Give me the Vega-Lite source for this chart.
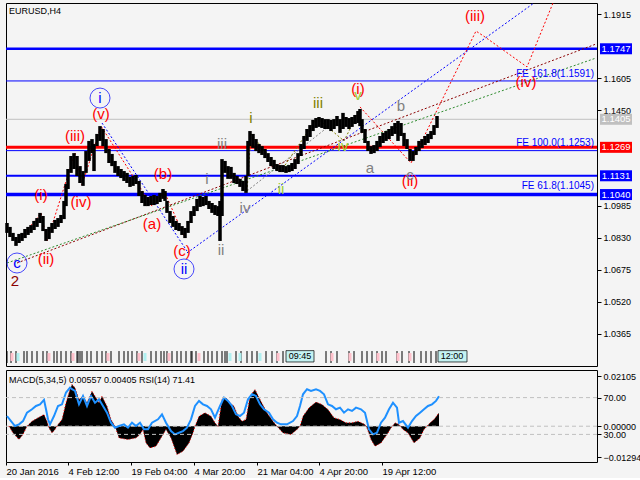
{
"$schema":"https://vega.github.io/schema/vega-lite/v6.json",
"background":"#f4f4f4",
"padding":2,
"spacing":2,
"config":{"view":{"stroke":"#000000"},"axis":{"labelFont":"Liberation Sans","labelFontSize":9,"labelColor":"#000000","tickColor":"#000000","grid":false,"domain":false}},
"datasets":{
"levels":[{"p":1.1747,"k":"b3"},{"p":1.1591,"k":"b1"},{"p":1.1405,"k":"g1"},{"p":1.1253,"k":"b1"},{"p":1.1269,"k":"r3"},{"p":1.1131,"k":"b2"},{"p":1.1040,"k":"b4"}],
"price":[
{"t":3,"h":1.0902,"l":1.0854},{"t":6,"h":1.0883,"l":1.0834},{"t":9,"h":1.0854,"l":1.0815},{"t":12,"h":1.0834,"l":1.0791},{"t":15,"h":1.0849,"l":1.0805},{"t":18,"h":1.0854,"l":1.0815},{"t":21,"h":1.0873,"l":1.0829},{"t":24,"h":1.0883,"l":1.0844},{"t":27,"h":1.0892,"l":1.0854},{"t":30,"h":1.0912,"l":1.0868},{"t":33,"h":1.0926,"l":1.0883},{"t":36,"h":1.0951,"l":1.0902},{"t":39,"h":1.0936,"l":1.0863},{"t":42,"h":1.0873,"l":1.0815},{"t":45,"h":1.0883,"l":1.0824},{"t":48,"h":1.0902,"l":1.0854},{"t":51,"h":1.0917,"l":1.0873},{"t":54,"h":1.0926,"l":1.0883},{"t":57,"h":1.0941,"l":1.0902},{"t":60,"h":1.1009,"l":1.0921},{"t":62,"h":1.1091,"l":1.0984},{"t":64,"h":1.1164,"l":1.1067},{"t":67,"h":1.1227,"l":1.1145},{"t":70,"h":1.1241,"l":1.1164},{"t":73,"h":1.1227,"l":1.1130},{"t":76,"h":1.1178,"l":1.1096},{"t":79,"h":1.1154,"l":1.1082},{"t":82,"h":1.1251,"l":1.1145},{"t":85,"h":1.1300,"l":1.1203},{"t":88,"h":1.1309,"l":1.1241},{"t":90,"h":1.1285,"l":1.1154},{"t":93,"h":1.1334,"l":1.1275},{"t":96,"h":1.1372,"l":1.1300},{"t":99,"h":1.1358,"l":1.1275},{"t":102,"h":1.1309,"l":1.1241},{"t":105,"h":1.1261,"l":1.1193},{"t":108,"h":1.1237,"l":1.1178},{"t":111,"h":1.1203,"l":1.1145},{"t":114,"h":1.1178,"l":1.1130},{"t":117,"h":1.1164,"l":1.1120},{"t":120,"h":1.1154,"l":1.1106},{"t":123,"h":1.1145,"l":1.1096},{"t":126,"h":1.1125,"l":1.1077},{"t":129,"h":1.1130,"l":1.1082},{"t":132,"h":1.1135,"l":1.1091},{"t":135,"h":1.1106,"l":1.1033},{"t":138,"h":1.1057,"l":1.0999},{"t":141,"h":1.1038,"l":1.0984},{"t":144,"h":1.1028,"l":1.0984},{"t":147,"h":1.1033,"l":1.0989},{"t":150,"h":1.1038,"l":1.0989},{"t":153,"h":1.1033,"l":1.0994},{"t":156,"h":1.1048,"l":1.1004},{"t":159,"h":1.1067,"l":1.1019},{"t":161,"h":1.1057,"l":1.1009},{"t":163,"h":1.1009,"l":1.0951},{"t":166,"h":1.0960,"l":1.0902},{"t":169,"h":1.0936,"l":1.0883},{"t":172,"h":1.0912,"l":1.0868},{"t":175,"h":1.0902,"l":1.0863},{"t":178,"h":1.0887,"l":1.0844},{"t":181,"h":1.0878,"l":1.0829},{"t":184,"h":1.0912,"l":1.0854},{"t":187,"h":1.0960,"l":1.0902},{"t":190,"h":1.0984,"l":1.0936},{"t":193,"h":1.1019,"l":1.0960},{"t":196,"h":1.1033,"l":1.0980},{"t":199,"h":1.1028,"l":1.0984},{"t":202,"h":1.1033,"l":1.0989},{"t":205,"h":1.1009,"l":1.0970},{"t":208,"h":1.0999,"l":1.0951},{"t":211,"h":1.0989,"l":1.0941},{"t":214,"h":1.0984,"l":1.0936},{"t":216,"h":1.1009,"l":1.0815},{"t":218,"h":1.1212,"l":1.0936},{"t":221,"h":1.1203,"l":1.1145},{"t":224,"h":1.1178,"l":1.1116},{"t":227,"h":1.1174,"l":1.1116},{"t":230,"h":1.1145,"l":1.1096},{"t":233,"h":1.1130,"l":1.1091},{"t":236,"h":1.1116,"l":1.1077},{"t":239,"h":1.1106,"l":1.1057},{"t":242,"h":1.1130,"l":1.1048},{"t":244,"h":1.1300,"l":1.1130},{"t":246,"h":1.1348,"l":1.1275},{"t":249,"h":1.1334,"l":1.1266},{"t":252,"h":1.1309,"l":1.1251},{"t":255,"h":1.1285,"l":1.1241},{"t":258,"h":1.1275,"l":1.1232},{"t":261,"h":1.1261,"l":1.1217},{"t":264,"h":1.1241,"l":1.1198},{"t":267,"h":1.1222,"l":1.1178},{"t":270,"h":1.1208,"l":1.1164},{"t":273,"h":1.1188,"l":1.1154},{"t":276,"h":1.1183,"l":1.1149},{"t":279,"h":1.1183,"l":1.1149},{"t":282,"h":1.1178,"l":1.1145},{"t":285,"h":1.1183,"l":1.1149},{"t":288,"h":1.1193,"l":1.1154},{"t":291,"h":1.1212,"l":1.1164},{"t":294,"h":1.1241,"l":1.1188},{"t":297,"h":1.1285,"l":1.1227},{"t":300,"h":1.1324,"l":1.1261},{"t":303,"h":1.1358,"l":1.1300},{"t":306,"h":1.1377,"l":1.1319},{"t":309,"h":1.1402,"l":1.1348},{"t":312,"h":1.1411,"l":1.1363},{"t":315,"h":1.1416,"l":1.1368},{"t":318,"h":1.1411,"l":1.1363},{"t":321,"h":1.1406,"l":1.1358},{"t":324,"h":1.1406,"l":1.1358},{"t":327,"h":1.1402,"l":1.1348},{"t":330,"h":1.1406,"l":1.1358},{"t":333,"h":1.1421,"l":1.1372},{"t":336,"h":1.1406,"l":1.1339},{"t":339,"h":1.1436,"l":1.1358},{"t":342,"h":1.1416,"l":1.1368},{"t":345,"h":1.1411,"l":1.1358},{"t":348,"h":1.1416,"l":1.1368},{"t":351,"h":1.1426,"l":1.1382},{"t":354,"h":1.1445,"l":1.1387},{"t":356,"h":1.1455,"l":1.1372},{"t":358,"h":1.1406,"l":1.1339},{"t":361,"h":1.1358,"l":1.1290},{"t":364,"h":1.1300,"l":1.1251},{"t":367,"h":1.1275,"l":1.1237},{"t":370,"h":1.1280,"l":1.1241},{"t":373,"h":1.1300,"l":1.1251},{"t":376,"h":1.1324,"l":1.1271},{"t":379,"h":1.1339,"l":1.1290},{"t":382,"h":1.1348,"l":1.1300},{"t":385,"h":1.1358,"l":1.1309},{"t":388,"h":1.1372,"l":1.1324},{"t":391,"h":1.1387,"l":1.1334},{"t":394,"h":1.1397,"l":1.1300},{"t":397,"h":1.1387,"l":1.1324},{"t":400,"h":1.1339,"l":1.1275},{"t":403,"h":1.1309,"l":1.1261},{"t":406,"h":1.1261,"l":1.1203},{"t":409,"h":1.1251,"l":1.1203},{"t":412,"h":1.1271,"l":1.1232},{"t":415,"h":1.1300,"l":1.1251},{"t":418,"h":1.1309,"l":1.1266},{"t":421,"h":1.1324,"l":1.1280},{"t":424,"h":1.1334,"l":1.1290},{"t":427,"h":1.1348,"l":1.1309},{"t":430,"h":1.1377,"l":1.1329},{"t":433,"h":1.1421,"l":1.1363}],
"paths":[
{"id":"b1","g":"blue","t":98,"p":1.1387},{"id":"b1","g":"blue","t":183,"p":1.0766},
{"id":"b2","g":"blue","t":183,"p":1.0757},{"id":"b2","g":"blue","t":530,"p":1.1969},
{"id":"r1","g":"red","t":12,"p":1.0800},{"id":"r1","g":"red","t":37,"p":1.0950},{"id":"r1","g":"red","t":43,"p":1.0815},{"id":"r1","g":"red","t":71,"p":1.1241},{"id":"r1","g":"red","t":78,"p":1.1086},{"id":"r1","g":"red","t":97,"p":1.1372},{"id":"r1","g":"red","t":148,"p":1.0984},{"id":"r1","g":"red","t":160,"p":1.1057},{"id":"r1","g":"red","t":181,"p":1.0829},
{"id":"r2","g":"red","t":356,"p":1.1465},{"id":"r2","g":"red","t":407,"p":1.1193},{"id":"r2","g":"red","t":472,"p":1.1833},{"id":"r2","g":"red","t":481,"p":1.1804},{"id":"r2","g":"red","t":523,"p":1.1659},{"id":"r2","g":"red","t":549,"p":1.1969},
{"id":"br","g":"brown","t":13,"p":1.0708},{"id":"br","g":"brown","t":592,"p":1.1770},
{"id":"gr","g":"green","t":3,"p":1.0708},{"id":"gr","g":"green","t":592,"p":1.1702},
{"id":"gy1","g":"gray","t":216,"p":1.0815},{"id":"gy1","g":"gray","t":218,"p":1.1203},
{"id":"gy2","g":"gray","t":243,"p":1.1057},{"id":"gy2","g":"gray","t":325,"p":1.1372},
{"id":"ol","g":"olive","t":243,"p":1.1057},{"id":"ol","g":"olive","t":247,"p":1.1334},{"id":"ol","g":"olive","t":277,"p":1.1154},{"id":"ol","g":"olive","t":313,"p":1.1411},{"id":"ol","g":"olive","t":340,"p":1.1300},{"id":"ol","g":"olive","t":356,"p":1.1455}],
"waves":[
{"t":37,"p":1.1038,"s":"(i)","g":"red"},{"t":42,"p":1.0727,"s":"(ii)","g":"red"},{"t":71,"p":1.1324,"s":"(iii)","g":"red"},{"t":77,"p":1.1004,"s":"(iv)","g":"red"},{"t":97,"p":1.1431,"s":"(v)","g":"red"},{"t":148,"p":1.0897,"s":"(a)","g":"red"},{"t":159,"p":1.1140,"s":"(b)","g":"red"},{"t":178,"p":1.0766,"s":"(c)","g":"red"},{"t":354,"p":1.1552,"s":"(i)","g":"red"},{"t":406,"p":1.1106,"s":"(ii)","g":"red"},{"t":471,"p":1.1906,"s":"(iii)","g":"red"},{"t":522,"p":1.1586,"s":"(iv)","g":"red"},
{"t":96,"p":1.1508,"s":"i","g":"blue"},{"t":180,"p":1.0679,"s":"ii","g":"blue"},{"t":13,"p":1.0708,"s":"c","g":"blue"},
{"t":11,"p":1.0621,"s":"2","g":"brown"},
{"t":203,"p":1.1115,"s":"i","g":"gray"},{"t":218,"p":1.1285,"s":"iii","g":"gray"},{"t":217,"p":1.0771,"s":"ii","g":"gray"},{"t":241,"p":1.0975,"s":"iv","g":"gray"},{"t":366,"p":1.1169,"s":"a","g":"gray"},{"t":397,"p":1.1469,"s":"b","g":"gray"},{"t":406,"p":1.1135,"s":"c","g":"gray"},
{"t":247,"p":1.1411,"s":"i","g":"olive"},{"t":314,"p":1.1484,"s":"iii","g":"olive"},{"t":354,"p":1.1523,"s":"v","g":"lime"},{"t":277,"p":1.1067,"s":"ii","g":"lime"},{"t":339,"p":1.1275,"s":"iv","g":"lime"}],
"fe":[{"t":590,"p":1.1625,"s":"FE 161.8(1.1591)"},{"t":590,"p":1.1290,"s":"FE 100.0(1.1253)"},{"t":590,"p":1.1081,"s":"FE 61.8(1.1045)"}],
"tags":[{"t":612,"p":1.1747,"s":"1.1747","g":"blue"},{"t":612,"p":1.1405,"s":"1.1405","g":"silver"},{"t":612,"p":1.1269,"s":"1.1269","g":"red"},{"t":612,"p":1.1131,"s":"1.1131","g":"blue"},{"t":612,"p":1.1040,"s":"1.1040","g":"blue"}],
"seps":[{"t":3},{"t":7},{"t":12},{"t":20},{"t":23},{"t":28},{"t":33},{"t":39},{"t":43},{"t":50},{"t":53},{"t":57},{"t":62},{"t":67},{"t":73},{"t":74},{"t":76},{"t":78},{"t":83},{"t":87},{"t":93},{"t":98},{"t":102},{"t":107},{"t":115},{"t":120},{"t":124},{"t":128},{"t":133},{"t":138},{"t":147},{"t":152},{"t":157},{"t":160},{"t":163},{"t":168},{"t":173},{"t":177},{"t":182},{"t":187},{"t":188},{"t":192},{"t":200},{"t":204},{"t":208},{"t":213},{"t":218},{"t":221},{"t":223},{"t":232},{"t":237},{"t":243},{"t":248},{"t":253},{"t":262},{"t":268},{"t":273},{"t":279},{"t":322},{"t":327},{"t":333},{"t":345},{"t":350},{"t":358},{"t":363},{"t":368},{"t":373},{"t":378},{"t":382},{"t":393},{"t":398},{"t":405},{"t":410},{"t":417},{"t":422},{"t":427},{"t":432}],
"boxes":[{"t":8,"g":"pink"},{"t":45,"g":"pink"},{"t":69,"g":"pink"},{"t":104,"g":"pink"},{"t":135,"g":"pink"},{"t":165,"g":"pink"},{"t":195,"g":"pink"},{"t":274,"g":"pink"},{"t":328,"g":"pink"},{"t":346,"g":"pink"},{"t":374,"g":"pink"},{"t":394,"g":"pink"},{"t":406,"g":"pink"},{"t":14,"g":"cyan"},{"t":141,"g":"cyan"},{"t":226,"g":"cyan"},{"t":236,"g":"cyan"},{"t":256,"g":"cyan"}],
"stamps":[{"t1":282,"t2":310,"tm":296,"s":"09:45"},{"t1":434,"t2":463,"tm":448,"s":"12:00"}],
"heading":[{"t":5,"p":1.1930,"s":"EURUSD,H4"}],
"macd":[{"t":5,"m":0},{"t":9,"m":-0.0028},{"t":15,"m":-0.0056},{"t":19,"m":-0.0035},{"t":23,"m":0},{"t":28,"m":0.0021},{"t":34,"m":0.0035},{"t":40,"m":0.0049},{"t":43,"m":0.0021},{"t":45,"m":-0.0007},{"t":48,"m":-0.0028},{"t":51,"m":-0.0014},{"t":54,"m":0.0007},{"t":58,"m":0.0028},{"t":62,"m":0.0098},{"t":66,"m":0.0154},{"t":68,"m":0.0175},{"t":71,"m":0.0161},{"t":75,"m":0.0112},{"t":79,"m":0.0126},{"t":83,"m":0.0098},{"t":88,"m":0.0147},{"t":91,"m":0.0126},{"t":95,"m":0.0098},{"t":98,"m":0.0126},{"t":103,"m":0.0084},{"t":107,"m":0.0028},{"t":111,"m":0},{"t":115,"m":-0.0049},{"t":124,"m":-0.0056},{"t":132,"m":-0.0049},{"t":136,"m":-0.0035},{"t":139,"m":-0.0014},{"t":142,"m":-0.0070},{"t":146,"m":-0.0091},{"t":152,"m":-0.0084},{"t":158,"m":-0.0042},{"t":162,"m":-0.0014},{"t":167,"m":-0.0049},{"t":173,"m":-0.0119},{"t":179,"m":-0.0105},{"t":185,"m":-0.0070},{"t":189,"m":-0.0028},{"t":191,"m":0},{"t":195,"m":0.0042},{"t":201,"m":0.0056},{"t":207,"m":0.0042},{"t":211,"m":0.0014},{"t":214,"m":0},{"t":218,"m":0.0112},{"t":222,"m":0.0119},{"t":226,"m":0.0098},{"t":230,"m":0.0084},{"t":234,"m":0.0042},{"t":238,"m":0.0021},{"t":242,"m":0.0028},{"t":246,"m":0.0126},{"t":251,"m":0.0154},{"t":256,"m":0.0112},{"t":263,"m":0.0056},{"t":269,"m":0.0021},{"t":273,"m":0},{"t":279,"m":-0.0028},{"t":287,"m":-0.0035},{"t":293,"m":-0.0014},{"t":296,"m":0},{"t":299,"m":0.0042},{"t":305,"m":0.0077},{"t":312,"m":0.0101},{"t":318,"m":0.0091},{"t":324,"m":0.0070},{"t":330,"m":0.0035},{"t":336,"m":0.0028},{"t":342,"m":0.0014},{"t":348,"m":0.0014},{"t":354,"m":0.0021},{"t":361,"m":0.0007},{"t":363,"m":-0.0007},{"t":367,"m":-0.0056},{"t":371,"m":-0.0084},{"t":377,"m":-0.0070},{"t":383,"m":-0.0035},{"t":387,"m":-0.0007},{"t":391,"m":0.0014},{"t":395,"m":0.0007},{"t":399,"m":-0.0014},{"t":404,"m":-0.0028},{"t":410,"m":-0.0070},{"t":416,"m":-0.0049},{"t":420,"m":-0.0014},{"t":423,"m":0},{"t":426,"m":0.0014},{"t":430,"m":0.0028},{"t":435,"m":0.0056}],
"rsi":[{"t":3,"r":50.0},{"t":7,"r":44.5},{"t":11,"r":39.1},{"t":15,"r":40.9},{"t":19,"r":44.5},{"t":23,"r":53.6},{"t":28,"r":57.3},{"t":32,"r":60.9},{"t":36,"r":62.7},{"t":40,"r":67.5},{"t":42,"r":57.3},{"t":44,"r":46.4},{"t":46,"r":40.9},{"t":50,"r":50.0},{"t":54,"r":60.9},{"t":58,"r":62.7},{"t":62,"r":75.5},{"t":66,"r":80.9},{"t":68,"r":79.1},{"t":71,"r":77.3},{"t":75,"r":62.7},{"t":79,"r":71.8},{"t":83,"r":60.9},{"t":87,"r":71.8},{"t":91,"r":64.5},{"t":95,"r":68.2},{"t":99,"r":60.9},{"t":103,"r":53.6},{"t":107,"r":42.7},{"t":111,"r":37.3},{"t":115,"r":39.1},{"t":120,"r":40.9},{"t":124,"r":37.3},{"t":128,"r":42.7},{"t":132,"r":39.1},{"t":136,"r":42.7},{"t":140,"r":35.5},{"t":144,"r":35.5},{"t":148,"r":42.7},{"t":154,"r":46.4},{"t":158,"r":51.8},{"t":162,"r":42.7},{"t":167,"r":33.6},{"t":171,"r":30.0},{"t":175,"r":31.8},{"t":179,"r":33.6},{"t":183,"r":37.3},{"t":187,"r":46.4},{"t":191,"r":60.9},{"t":195,"r":66.4},{"t":199,"r":62.7},{"t":203,"r":60.9},{"t":207,"r":57.3},{"t":211,"r":48.2},{"t":216,"r":60.9},{"t":220,"r":70.0},{"t":224,"r":66.4},{"t":228,"r":60.9},{"t":232,"r":51.8},{"t":236,"r":50.0},{"t":240,"r":53.6},{"t":244,"r":68.2},{"t":248,"r":73.6},{"t":252,"r":71.8},{"t":256,"r":62.7},{"t":260,"r":57.3},{"t":265,"r":53.6},{"t":269,"r":46.4},{"t":273,"r":42.7},{"t":277,"r":40.9},{"t":283,"r":40.9},{"t":289,"r":44.5},{"t":293,"r":50.0},{"t":296,"r":60.9},{"t":299,"r":73.6},{"t":303,"r":79.1},{"t":307,"r":77.3},{"t":312,"r":79.1},{"t":316,"r":77.3},{"t":320,"r":73.6},{"t":324,"r":62.7},{"t":328,"r":60.9},{"t":332,"r":57.3},{"t":336,"r":59.1},{"t":340,"r":53.6},{"t":344,"r":57.3},{"t":348,"r":55.5},{"t":352,"r":59.1},{"t":357,"r":57.3},{"t":361,"r":53.6},{"t":365,"r":35.5},{"t":369,"r":30.0},{"t":373,"r":31.8},{"t":377,"r":42.7},{"t":381,"r":48.2},{"t":385,"r":57.3},{"t":389,"r":64.5},{"t":393,"r":59.1},{"t":395,"r":42.7},{"t":399,"r":44.5},{"t":404,"r":37.3},{"t":408,"r":44.5},{"t":412,"r":50.0},{"t":416,"r":53.6},{"t":420,"r":57.3},{"t":424,"r":60.9},{"t":428,"r":62.7},{"t":432,"r":66.4},{"t":435,"r":71.4}],
"rsilev":[{"v":70},{"v":30}],
"zero":[{"m":0}],
"indtitle":[{"t":5,"m":0.0194,"s":"MACD(5,34,5) 0.00557 0.00405 RSI(14) 71.41"}]
},
"vconcat":[
{"width":591,"height":363,
"layer":[
{"encoding":{
"x":{"field":"t","type":"quantitative","axis":null,"scale":{"domain":[2,593],"zero":false,"nice":false}},
"y":{"field":"p","type":"quantitative","title":null,"scale":{"domain":[1.02085,1.1969],"zero":false,"nice":false},"axis":{"orient":"right","values":[1.1915,1.1605,1.145,1.0985,1.083,1.0675,1.052,1.0365],"format":".4f","tickSize":4,"labelPadding":2}}},
"layer":[
{"data":{"name":"levels"},"transform":[{"filter":"datum.k=='b1'"}],"mark":{"type":"rule","color":"#0000ff","strokeWidth":1},"encoding":{"x":null}},
{"data":{"name":"levels"},"transform":[{"filter":"datum.k=='g1'"}],"mark":{"type":"rule","color":"#c0c0c0","strokeWidth":1},"encoding":{"x":null}},
{"data":{"name":"levels"},"transform":[{"filter":"datum.k=='b3'"}],"mark":{"type":"rule","color":"#0000ff","strokeWidth":2.5},"encoding":{"x":null}},
{"data":{"name":"levels"},"transform":[{"filter":"datum.k=='b2'"}],"mark":{"type":"rule","color":"#0000ff","strokeWidth":2},"encoding":{"x":null}},
{"data":{"name":"levels"},"transform":[{"filter":"datum.k=='b4'"}],"mark":{"type":"rule","color":"#0000ff","strokeWidth":3.5},"encoding":{"x":null}},
{"data":{"name":"levels"},"transform":[{"filter":"datum.k=='r3'"}],"mark":{"type":"rule","color":"#ff0000","strokeWidth":3},"encoding":{"x":null}},
{"data":{"name":"paths"},"mark":{"type":"line","strokeWidth":1,"strokeDash":[2,2],"clip":true},
"encoding":{"detail":{"field":"id"},
"color":{"field":"g","type":"nominal","legend":null,"scale":{"domain":["blue","red","brown","green","gray","olive","lime","silver","pink","cyan"],"range":["#0000ff","#ff0000","#8b0000","#2e8b2e","#808080","#808000","#9acd32","#c0c0c0","#ffc0cb","#b0f0f0"]}}}},
{"data":{"name":"price"},"mark":{"type":"rule","color":"#000000","strokeWidth":3.5},
"encoding":{"y":{"field":"l","type":"quantitative"},"y2":{"field":"h"}}},
{"data":{"name":"waves"},"transform":[{"filter":"datum.g=='blue'"}],"mark":{"type":"point","shape":"circle","filled":false,"size":400,"strokeWidth":1,"color":"#0000ff"}},
{"data":{"name":"waves"},"mark":{"type":"text","fontSize":15,"font":"Liberation Sans","align":"center","baseline":"middle"},
"encoding":{"text":{"field":"s"},"color":{"field":"g","type":"nominal","legend":null}}},
{"data":{"name":"fe"},"mark":{"type":"text","fontSize":10,"font":"Liberation Sans","align":"right","baseline":"middle","color":"#0000ff"},
"encoding":{"text":{"field":"s"}}},
{"data":{"name":"tags"},"mark":{"type":"tick","orient":"horizontal","size":32,"thickness":11,"opacity":1},
"encoding":{"color":{"field":"g","type":"nominal","legend":null}}},
{"data":{"name":"tags"},"mark":{"type":"text","fontSize":9.5,"font":"Liberation Sans","align":"center","baseline":"middle","color":"#ffffff"},
"encoding":{"text":{"field":"s"}}},
{"data":{"name":"heading"},"mark":{"type":"text","fontSize":9,"font":"Liberation Sans","align":"left","baseline":"middle","color":"#000000"},
"encoding":{"text":{"field":"s"}}}
]},
{"layer":[
{"data":{"name":"seps"},"mark":{"type":"rule","color":"#000000","strokeWidth":1},
"encoding":{"x":{"field":"t","type":"quantitative","axis":null},"y":{"datum":1.0281,"type":"quantitative","title":null},"y2":{"datum":1.0223}}},
{"data":{"name":"boxes"},"mark":{"type":"tick","orient":"vertical","size":8,"thickness":3,"opacity":1},
"encoding":{"x":{"field":"t","type":"quantitative","axis":null},"y":{"datum":1.0252,"type":"quantitative","title":null},"color":{"field":"g","type":"nominal","legend":null}}},
{"data":{"name":"stamps"},"mark":{"type":"rect","fill":"#c4f2f2","stroke":"#000000","strokeWidth":0.7},
"encoding":{"x":{"field":"t1","type":"quantitative","axis":null},"x2":{"field":"t2"},"y":{"datum":1.0283,"type":"quantitative","title":null},"y2":{"datum":1.0228}}},
{"data":{"name":"stamps"},"mark":{"type":"text","fontSize":9,"font":"Liberation Sans","align":"center","baseline":"middle","color":"#000000"},
"encoding":{"x":{"field":"tm","type":"quantitative","axis":null},"y":{"datum":1.0255,"type":"quantitative","title":null},"text":{"field":"s"}}}
]}
]},
{"width":591,"height":92,
"encoding":{"x":{"field":"t","type":"quantitative","scale":{"domain":[2,593],"nice":false,"zero":false},"axis":{"title":null,"values":[2,64,127,190,253,315,378],"labelAlign":"left","labelPadding":1,"tickSize":3,"labelFontSize":9.5,"labelExpr":"datum.value==2?'20 Jan 2016':datum.value==64?'4 Feb 12:00':datum.value==127?'19 Feb 04:00':datum.value==190?'4 Mar 20:00':datum.value==253?'21 Mar 04:00':datum.value==315?'4 Apr 20:00':'19 Apr 12:00'"}}},
"resolve":{"scale":{"y":"independent"},"axis":{"y":"independent"}},
"layer":[
{"encoding":{"y":{"field":"m","type":"quantitative","title":null,"scale":{"domain":[-0.01501,0.02357],"nice":false,"zero":false},"axis":{"orient":"right","values":[0.02105,0,-0.01294],"format":".5f","tickSize":4,"labelPadding":2}}},
"layer":[
{"data":{"name":"macd"},"mark":{"type":"area","color":"#000000"},"encoding":{"y2":{"datum":0}}},
{"data":{"name":"zero"},"mark":{"type":"rule","color":"#c0c0c0","strokeDash":[4,3],"strokeWidth":1},"encoding":{"x":null}},
{"data":{"name":"macd"},"mark":{"type":"line","color":"#ff0000","strokeWidth":1,"strokeDash":[1,2]}},
{"data":{"name":"indtitle"},"mark":{"type":"text","fontSize":9,"font":"Liberation Sans","align":"left","baseline":"middle","color":"#000000"},"encoding":{"text":{"field":"s"}}}
]},
{"layer":[
{"data":{"name":"rsi"},"mark":{"type":"line","color":"#1e90ff","strokeWidth":2},
"encoding":{"y":{"field":"r","type":"quantitative","title":null,"scale":{"domain":[0,100],"nice":false,"zero":false},"axis":{"orient":"right","values":[70,30],"format":".2f","tickSize":4,"labelPadding":2}}}},
{"data":{"name":"rsilev"},"mark":{"type":"rule","color":"#c0c0c0","strokeDash":[4,3],"strokeWidth":1},
"encoding":{"x":null,"y":{"field":"v","type":"quantitative","scale":{"domain":[0,100],"nice":false,"zero":false}}}}
]}
]}
]
}
